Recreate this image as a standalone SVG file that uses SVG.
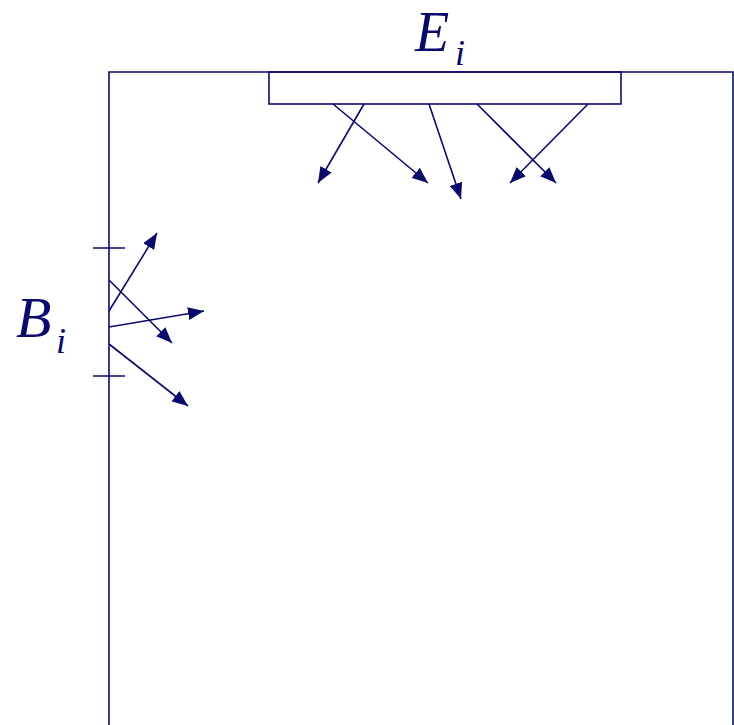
<svg xmlns="http://www.w3.org/2000/svg" width="734" height="725" viewBox="0 0 734 725">
<style>
.ln{stroke:#0a0a6a;stroke-width:1.6;fill:none}
.ar{stroke:#0a0a6a;stroke-width:1.6;fill:none;marker-end:url(#ah)}
.lb{font-family:"Liberation Serif",serif;font-style:italic;fill:#0a0a6a}
</style>
<defs>
<marker id="ah" markerUnits="userSpaceOnUse" markerWidth="17" markerHeight="13" refX="16" refY="6.5" orient="auto">
<path d="M0,0 L16,6.5 L0,13 z" fill="#0a0a6a"/>
</marker>
</defs>
<rect width="734" height="725" fill="#fff"/>
<g id="room">
<path class="ln" d="M109,725 V72 H733 V725"/>
</g>
<g id="emitter">
<rect class="ln" x="269" y="72" width="352" height="32" fill="#fff"/>
<text class="lb" x="415" y="51" font-size="56">E</text>
<text class="lb" x="455" y="65" font-size="36">i</text>
</g>
<g id="boundary">
<path class="ln" d="M93,248 H125 M93,376 H125"/>
<text class="lb" x="16" y="337" font-size="58">B</text>
<text class="lb" x="56" y="353" font-size="36">i</text>
</g>
<g id="connectors">
<line class="ar" x1="364" y1="104" x2="318" y2="183"/>
<line class="ar" x1="333" y1="104" x2="428" y2="183"/>
<line class="ar" x1="429" y1="104" x2="461" y2="199"/>
<line class="ar" x1="477" y1="104" x2="556" y2="183"/>
<line class="ar" x1="588" y1="104" x2="510" y2="183"/>
<line class="ar" x1="109" y1="311" x2="157" y2="233"/>
<line class="ar" x1="109" y1="280" x2="172" y2="343"/>
<line class="ar" x1="109" y1="327" x2="204" y2="311"/>
<line class="ar" x1="109" y1="344" x2="188" y2="406"/>
</g>
</svg>
